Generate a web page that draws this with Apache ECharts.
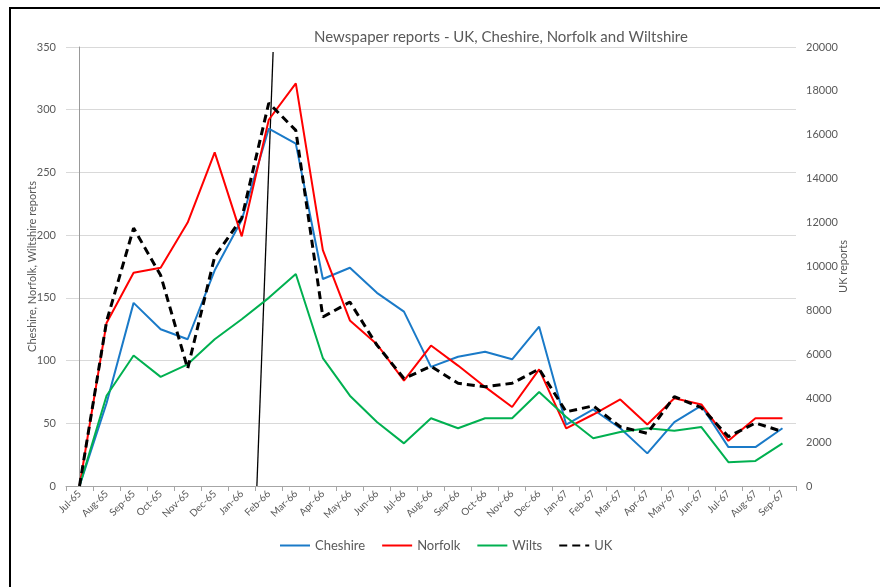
<!DOCTYPE html>
<html>
<head>
<meta charset="utf-8">
<title>Newspaper reports</title>
<script src="https://cdn.jsdelivr.net/npm/echarts@6/dist/echarts.min.js"></script>
<style>
  html, body { margin: 0; padding: 0; background: #fff; }
  #frame {
    position: absolute; left: 9px; top: 7px; width: 880px; height: 600px;
    border-top: 2px solid #000; border-left: 2px solid #000;
  }
  #main { position: absolute; left: 0; top: 0; width: 880px; height: 587px; }
</style>
</head>
<body>
<div id="frame"></div>
<div id="main"></div>
<script>
// months, Jul-65 .. Sep-67
const months = ["Jul-65", "Aug-65", "Sep-65", "Oct-65", "Nov-65", "Dec-65", "Jan-66", "Feb-66", "Mar-66",
  "Apr-66", "May-66", "Jun-66", "Jul-66", "Aug-66", "Sep-66", "Oct-66", "Nov-66", "Dec-66",
  "Jan-67", "Feb-67", "Mar-67", "Apr-67", "May-67", "Jun-67", "Jul-67", "Aug-67", "Sep-67"];

const cheshire = [0, 66, 146, 125, 117, 172, 212, 285, 273, 165, 174, 154, 139, 95, 103, 107, 101, 127,
  49, 61, 46, 26, 51, 64, 31, 31, 46];
const norfolk = [0, 130, 170, 174, 210, 266, 199, 292, 321, 188, 132, 113, 84, 112, 96, 79, 63, 93,
  46, 57, 69, 49, 70, 65, 36, 54, 54];
const wilts = [0, 72, 104, 87, 97, 117, 133, 150, 169, 102, 72, 51, 34, 54, 46, 54, 54, 75,
  55, 38, 43, 46, 44, 47, 19, 20, 34];
// UK, right axis
const uk = [0, 7500, 11750, 9600, 5350, 10450, 12200, 17450, 16200, 7700, 8380, 6420, 4900, 5450, 4680,
  4520, 4680, 5330, 3380, 3650, 2700, 2400, 4070, 3570, 2250, 2870, 2480];

// thin marker line across Jan-66 / Feb-66, x in month index units, y on left axis
const markerX = [6.56, 7.16];
const markerY = [0, 346];

const leftTicks = { min: 0, max: 350, interval: 50 };
const rightTicks = { min: 0, max: 20000, interval: 2000 };

const grey = "#595959";
const font = "Lato";

const chart = echarts.init(document.getElementById("main"));
chart.setOption({
  animation: false,
  textStyle: { fontFamily: font },
  title: {
    text: "Newspaper reports - UK, Cheshire, Norfolk and Wiltshire",
    left: 309, top: 25,
    textStyle: { fontFamily: font, fontSize: 15, fontWeight: "normal", color: grey }
  },
  legend: {
    data: ["Cheshire", "Norfolk", "Wilts", "UK"],
    left: 274, top: 534,
    itemWidth: 30, itemHeight: 3, itemGap: 16,
    itemStyle: { opacity: 0 },
    textStyle: { fontFamily: font, fontSize: 13, color: grey }
  },
  grid: { left: 66, right: 84, top: 47, bottom: 101, containLabel: false },
  xAxis: [
    {
      type: "category",
      data: months,
      boundaryGap: true,
      axisLine: { lineStyle: { color: "#a6a6a6" } },
      axisTick: { show: true, interval: 0, length: 5, lineStyle: { color: "#a6a6a6" } },
      axisLabel: { interval: 0, rotate: 45, fontSize: 10, color: grey, fontFamily: font, margin: 6 }
    },
    {
      type: "value", show: false, min: -0.5, max: months.length - 0.5
    }
  ],
  yAxis: [
    {
      type: "value",
      min: leftTicks.min, max: leftTicks.max, interval: leftTicks.interval,
      name: "Cheshire, Norfolk, Wiltshire reports",
      nameLocation: "middle", nameGap: 28, nameMoveOverlap: false,
      nameTextStyle: { fontFamily: font, fontSize: 11, color: grey },
      axisLine: { show: true, lineStyle: { color: "#999" } },
      axisTick: { show: false },
      axisLabel: { fontSize: 11, color: grey, fontFamily: font, margin: 10 },
      splitLine: { lineStyle: { color: "#d9d9d9" } }
    },
    {
      type: "value",
      position: "right",
      min: rightTicks.min, max: rightTicks.max, interval: rightTicks.interval,
      name: "UK reports",
      nameLocation: "middle", nameGap: 42, nameMoveOverlap: false,
      nameTextStyle: { fontFamily: font, fontSize: 11, color: grey },
      axisLine: { show: false },
      axisTick: { show: false },
      axisLabel: { fontSize: 11, color: grey, fontFamily: font, margin: 10, formatter: v => String(v) },
      splitLine: { show: false }
    }
  ],
  series: [
    {
      name: "Cheshire", type: "line", data: cheshire, symbol: "none",
      color: "#1a7ac8", lineStyle: { width: 2, color: "#1a7ac8" }
    },
    {
      name: "Norfolk", type: "line", data: norfolk, symbol: "none",
      color: "#ff0000", lineStyle: { width: 2, color: "#ff0000" }
    },
    {
      name: "Wilts", type: "line", data: wilts, symbol: "none",
      color: "#00b050", lineStyle: { width: 2, color: "#00b050" }
    },
    {
      name: "UK", type: "line", data: uk, yAxisIndex: 1, symbol: "none",
      color: "#000", lineStyle: { width: 3, color: "#000", type: [8, 5] }
    },
    {
      name: "marker", type: "line", xAxisIndex: 1, yAxisIndex: 0, symbol: "none",
      data: markerX.map((x, i) => [x, markerY[i]]),
      lineStyle: { width: 1.3, color: "#000" }, silent: true, z: 1
    }
  ]
});
</script>
</body>
</html>
